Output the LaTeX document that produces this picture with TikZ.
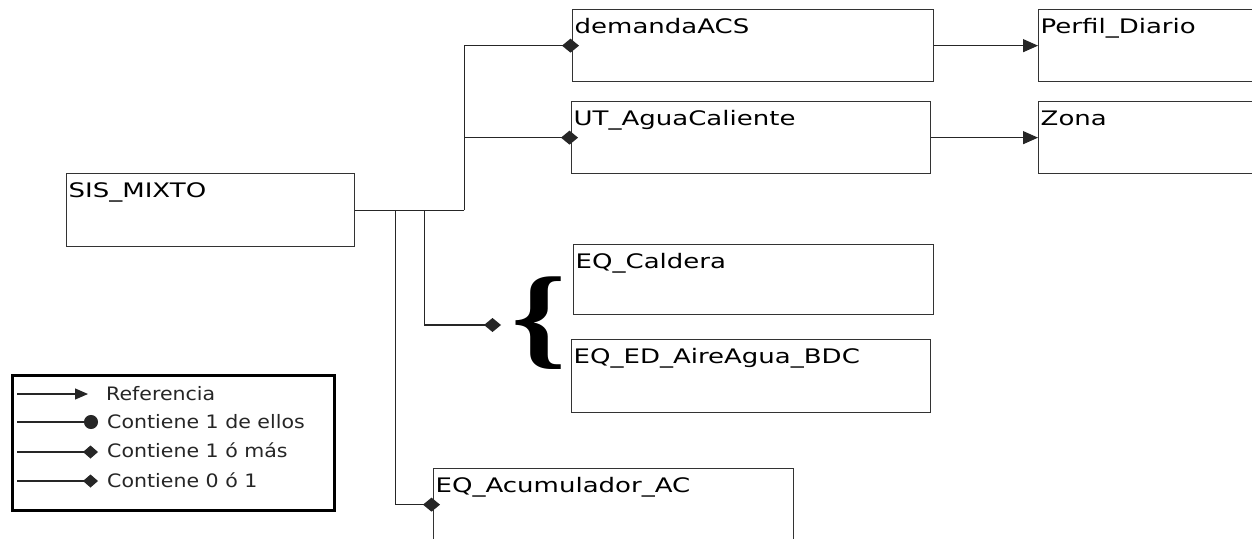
\documentclass[tikz,border=0pt]{standalone}
\usepackage{fontspec}
\setmainfont[FakeStretch=1.3]{DejaVu Sans}
\newfontfamily\legfont[FakeStretch=1.11]{DejaVu Sans}
\newfontfamily\bracefont{Liberation Serif}
\usetikzlibrary{arrows.meta}
\tikzset{
  boxnode/.style={draw=black!80, line width=1.3pt, anchor=north west, inner sep=0pt},
  boxtext/.style={anchor=north west, inner xsep=2.5pt, inner ysep=5pt, text height=19.5pt, text depth=0pt, font=\fontsize{20}{24}\selectfont, text=black},
  conn/.style={draw=black!85, line width=1.3pt},
  dtip/.style={-{Diamond[length=17pt,width=14pt]}},
  atip/.style={-{Triangle[length=15pt,width=13pt]}},
  legtext/.style={anchor=base west, inner sep=0pt, font=\legfont\fontsize{18.5}{20}\selectfont, text=black!85},
}
\begin{document}
\begin{tikzpicture}[x=1pt,y=-1pt]
\useasboundingbox (0,0) rectangle (1252,538);
\clip (0,0) rectangle (1252,538);
\fill[white] (0,0) rectangle (1252,538);

% boxes
\node[boxnode, minimum width=288pt, minimum height=73pt] (sis) at (66,173) {};
\node[boxtext] (sist) at (sis.north west) {SIS\_MIXTO};
\node[boxnode, minimum width=361pt, minimum height=72pt] (dem) at (572,9) {};
\node[boxtext] (demt) at (dem.north west) {demandaACS};
\node[boxnode, minimum width=359pt, minimum height=72pt] (ut) at (571,101) {};
\node[boxtext] (utt) at (ut.north west) {UT\_AguaCaliente};
\node[boxnode, minimum width=260pt, minimum height=72pt] (perfil) at (1038,9) {};
\node[boxtext] (perfilt) at (perfil.north west) {Perfil\_Diario};
\node[boxnode, minimum width=260pt, minimum height=72pt] (zona) at (1038,101) {};
\node[boxtext] (zonat) at (zona.north west) {Zona};
\node[boxnode, minimum width=360pt, minimum height=70pt] (cal) at (573,244) {};
\node[boxtext] (calt) at (cal.north west) {EQ\_Caldera};
\node[boxnode, minimum width=359pt, minimum height=73pt] (ed) at (571,339) {};
\node[boxtext] (edt) at (ed.north west) {EQ\_ED\_AireAgua\_BDC};
\node[boxnode, minimum width=360pt, minimum height=72pt] (acu) at (433,468) {};
\node[boxtext] (acut) at (acu.north west) {EQ\_Acumulador\_AC};

% brace
\node[inner sep=0pt, font=\bracefont\bfseries\fontsize{112}{112}\selectfont] (brace) at (539,323) {\scalebox{1.25}[1]{\{}};

% junctions
\coordinate (j1) at ([xshift=109pt]sis.east);
\coordinate (j2) at ([xshift=40pt]sis.east);
\coordinate (j3) at ([xshift=69pt]sis.east);
\coordinate (bd) at (501,325);

\draw[conn] (sis.east) -- (j1);
\draw[conn, dtip] (j1) |- ([xshift=7pt]dem.west);
\draw[conn, dtip] (j1) |- ([xshift=7pt]ut.west);
\draw[conn, dtip] (j2) |- ([xshift=7pt]acu.west);
\draw[conn, dtip] (j3) |- (bd);
\draw[conn, atip] (dem.east) -- (perfil.west);
\draw[conn, atip] (ut.east) -- (zona.west);

% legend
\node[draw=black, line width=2.8pt, anchor=north west, minimum width=322pt, minimum height=135pt, inner sep=0pt] (legend) at (11,374) {};
\coordinate (l1a) at (17,394); \coordinate (l1b) at (88,394);
\coordinate (l2a) at (17,422); \coordinate (l2b) at (98,422);
\coordinate (l3a) at (17,452); \coordinate (l3b) at (98,452);
\coordinate (l4a) at (17,481); \coordinate (l4b) at (98,481);
\draw[conn, line width=1.2pt, -{Triangle[length=13pt,width=11pt]}] (l1a) -- (l1b);
\draw[conn, line width=1.2pt, -{Circle[length=14pt]}] (l2a) -- (l2b);
\draw[conn, line width=1.2pt, -{Diamond[length=15pt,width=13pt]}] (l3a) -- (l3b);
\draw[conn, line width=1.2pt, -{Diamond[length=15pt,width=13pt]}] (l4a) -- (l4b);
\node[legtext] (lt1) at (106,400.5) {Referencia};
\node[legtext] (lt2) at (107,428) {Contiene 1 de ellos};
\node[legtext] (lt3) at (107,457.5) {Contiene 1 ó más};
\node[legtext] (lt4) at (107,487) {Contiene 0 ó 1};
\end{tikzpicture}
\end{document}
